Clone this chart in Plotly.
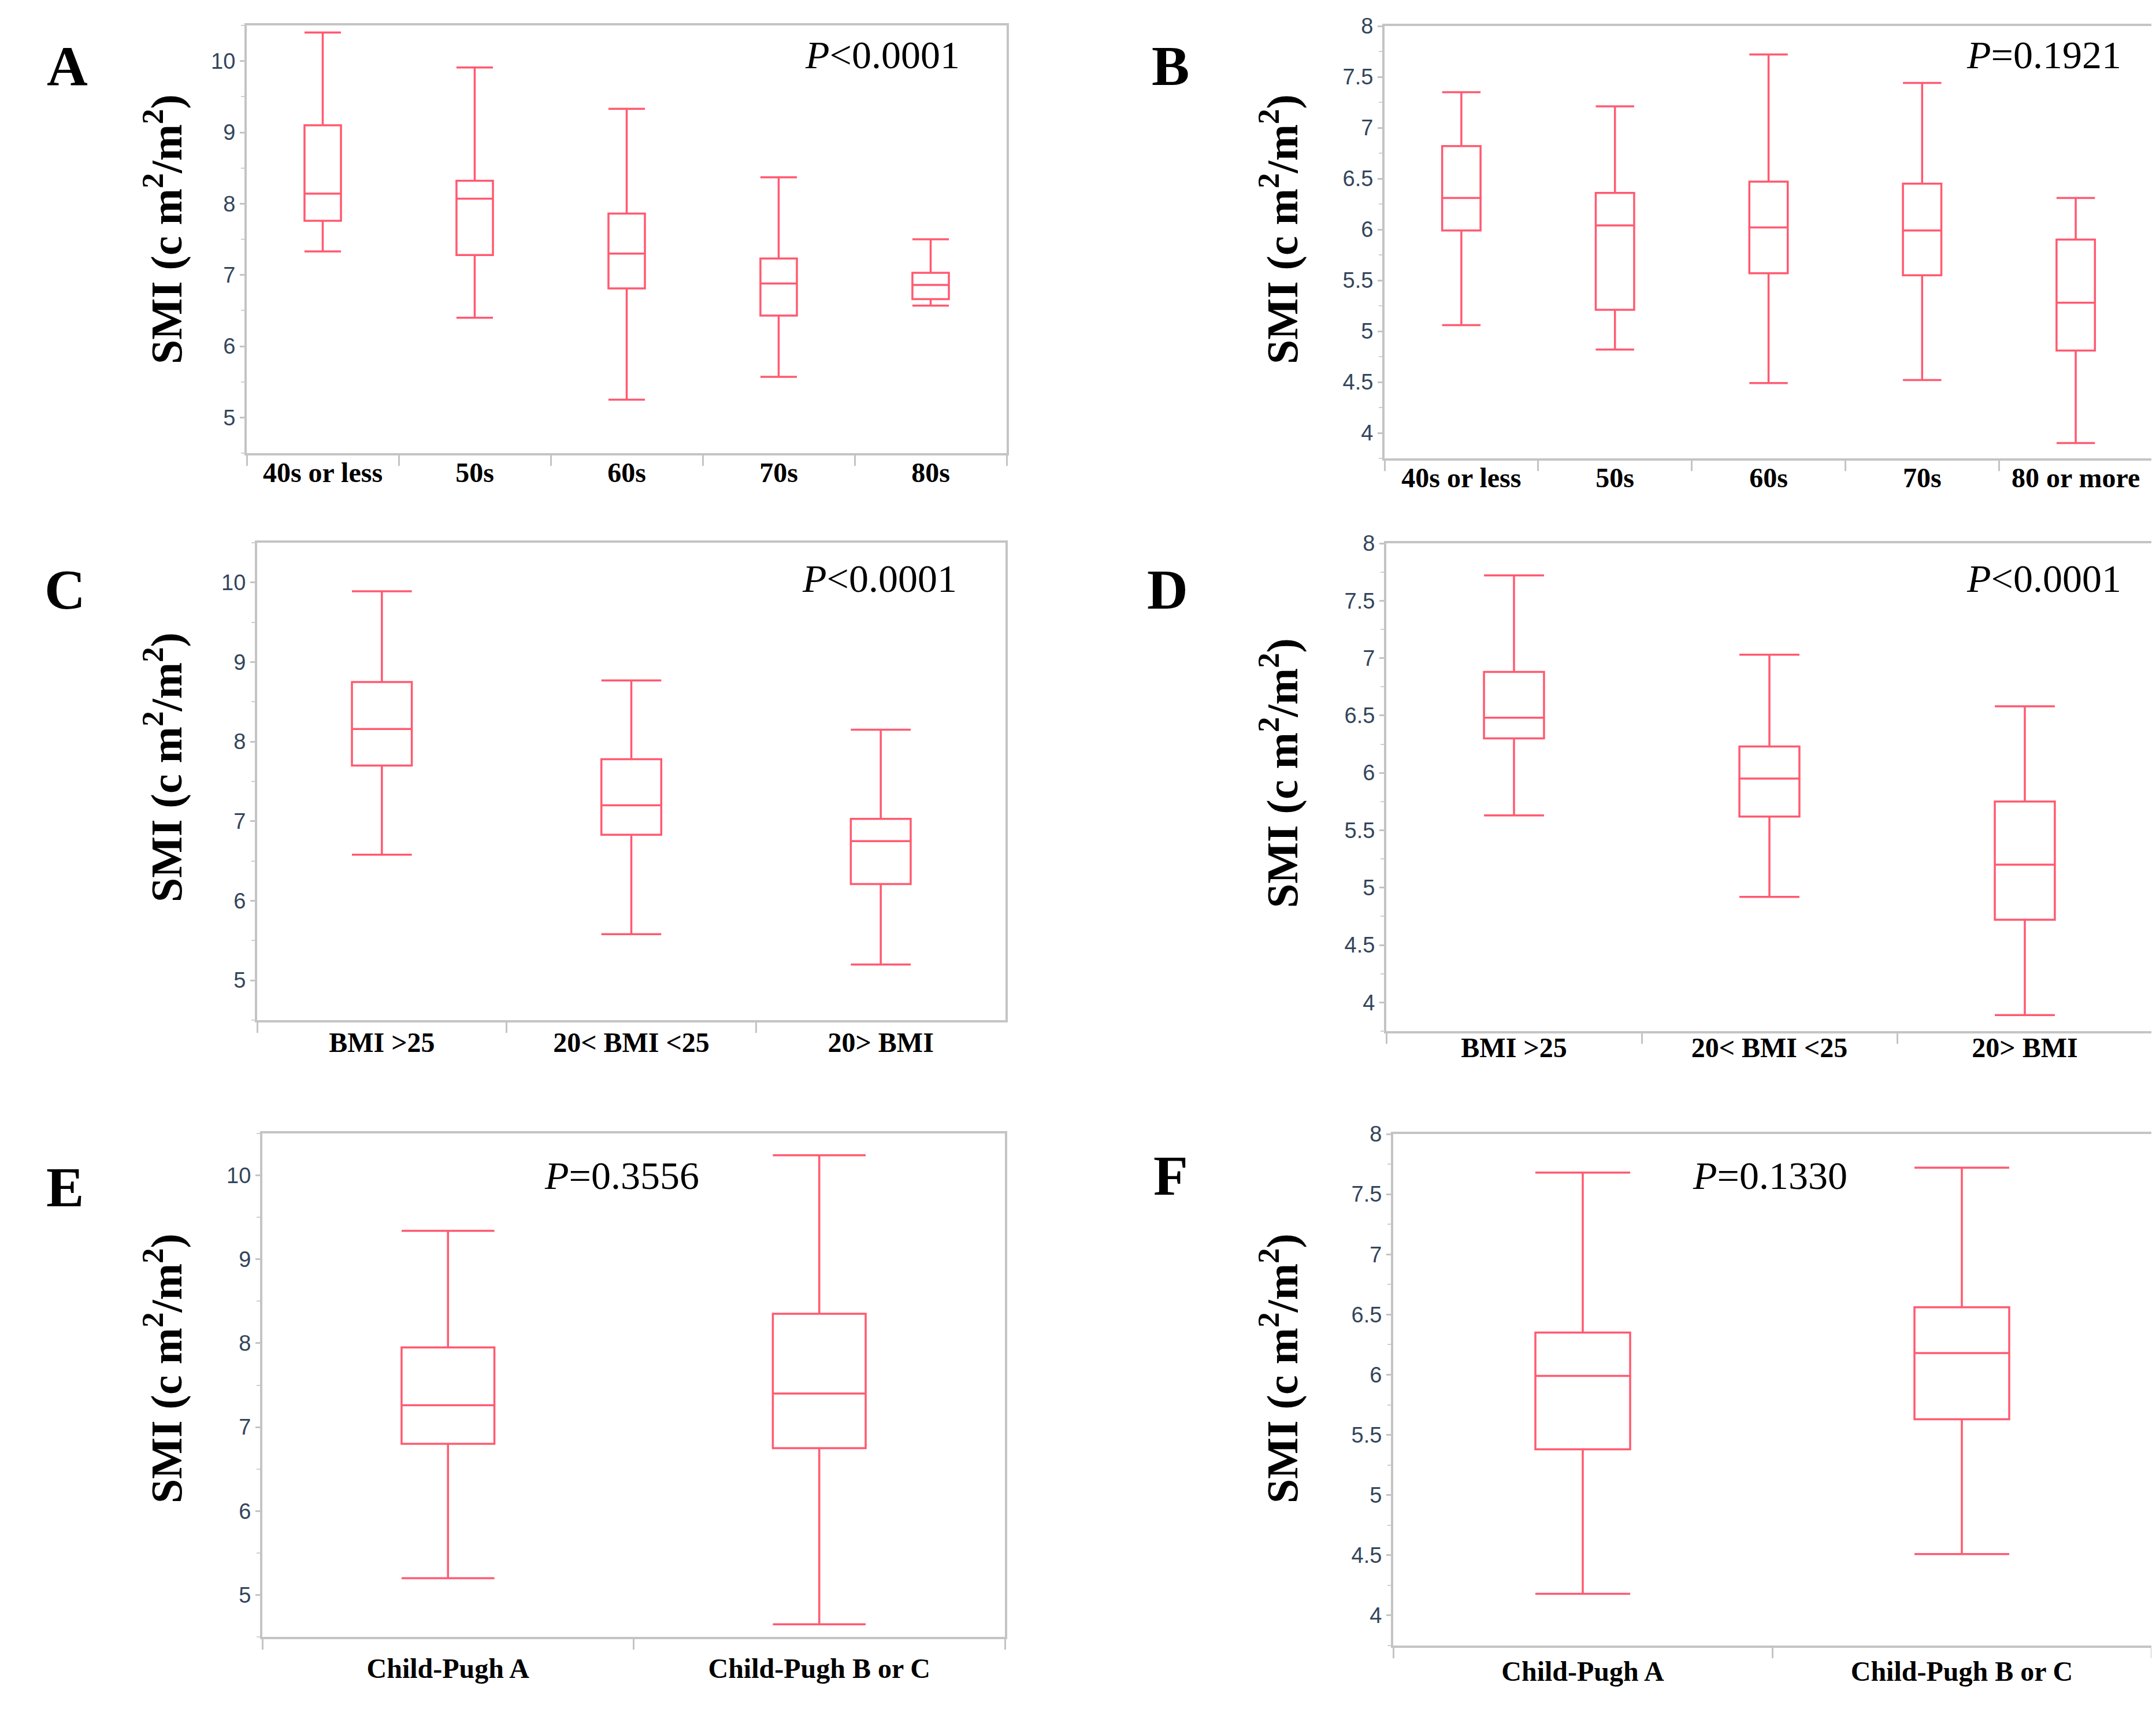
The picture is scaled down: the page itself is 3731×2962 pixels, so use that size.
import plotly.graph_objects as go

# ---- data ----
# A: age groups, y 4.5-10.5
a_cats = ["40s or less", "50s", "60s", "70s", "80s"]
a_low = [7.33, 6.40, 5.25, 5.57, 6.57]
a_q1 = [7.76, 7.28, 6.81, 6.43, 6.66]
a_med = [8.14, 8.07, 7.30, 6.88, 6.86]
a_q3 = [9.10, 8.32, 7.86, 7.23, 7.03]
a_high = [10.40, 9.91, 9.33, 8.37, 7.50]

# B: age groups, y 3.75-8
b_cats = ["40s or less", "50s", "60s", "70s", "80 or more"]
b_low = [5.06, 4.82, 4.49, 4.52, 3.90]
b_q1 = [5.99, 5.21, 5.57, 5.55, 4.81]
b_med = [6.31, 6.04, 6.02, 5.99, 5.28]
b_q3 = [6.82, 6.36, 6.47, 6.45, 5.90]
b_high = [7.35, 7.21, 7.72, 7.44, 6.31]

# C / D: BMI groups
bmi_cats = ["BMI >25", "20< BMI <25", "20> BMI"]
c_low = [6.58, 5.58, 5.20]
c_q1 = [7.70, 6.83, 6.21]
c_med = [8.16, 7.20, 6.75]
c_q3 = [8.75, 7.78, 7.03]
c_high = [9.89, 8.77, 8.15]

d_low = [5.63, 4.92, 3.89]
d_q1 = [6.30, 5.62, 4.72]
d_med = [6.48, 5.95, 5.20]
d_q3 = [6.88, 6.23, 5.75]
d_high = [7.72, 7.03, 6.58]

# E / F: Child-Pugh
cp_cats = ["Child-Pugh A", "Child-Pugh B or C"]
e_low = [5.20, 4.65]
e_q1 = [6.80, 6.75]
e_med = [7.26, 7.40]
e_q3 = [7.95, 8.35]
e_high = [9.34, 10.24]

f_low = [4.18, 4.51]
f_q1 = [5.38, 5.63]
f_med = [5.99, 6.18]
f_q3 = [6.35, 6.56]
f_high = [7.68, 7.72]

p_texts = ["<i>P</i><0.0001", "<i>P</i>=0.1921", "<i>P</i><0.0001",
           "<i>P</i><0.0001", "<i>P</i>=0.3556", "<i>P</i>=0.1330"]
letters = ["A", "B", "C", "D", "E", "F"]

W, H = 3731, 2962
RED = "#ff5a70"
FRAME = "#c4c4c4"
TICKFONT = dict(family="Liberation Sans Narrow, Liberation Sans, Arial", size=38, color="#33455c")
CATFONT = dict(family="Liberation Serif, Times New Roman", size=48, color="black")

# panel frames in pixels: x0, x1, y_top, y_bottom
frames = [
    (419, 1734, 36, 776),
    (2388, 3717, 37, 785),
    (437, 1732, 931, 1757),
    (2391, 3717, 932, 1776),
    (446, 1731, 1953, 2824),
    (2403, 3715, 1954, 2839),
]

panels = [
    (a_cats, a_low, a_q1, a_med, a_q3, a_high, [4.5, 10.5], 1, 0.5, 0.24),
    (b_cats, b_low, b_q1, b_med, b_q3, b_high, [3.75, 8.0], 0.5, 0.25, 0.25),
    (bmi_cats, c_low, c_q1, c_med, c_q3, c_high, [4.5, 10.5], 1, 0.5, 0.24),
    (bmi_cats, d_low, d_q1, d_med, d_q3, d_high, [3.75, 8.0], 0.5, 0.25, 0.235),
    (cp_cats, e_low, e_q1, e_med, e_q3, e_high, [4.5, 10.5], 1, 0.5, 0.25),
    (cp_cats, f_low, f_q1, f_med, f_q3, f_high, [3.75, 8.0], 0.5, 0.25, 0.25),
]

# annotation centres (pixels)
letter_pos = [(108, 106), (2018, 106), (104, 1012), (2013, 1012), (104, 2046), (2018, 2026)]
ytitle_pos = [(275, 389), (2206, 389), (275, 1320), (2206, 1330), (275, 2360), (2206, 2360)]
# (x, y, anchor)
p_pos = [(1655, 87, "right"), (3665, 87, "right"), (1650, 993, "right"),
         (3665, 993, "right"), (1068, 2026, "center"), (3055, 2026, "center")]
xlabel_standoff = [-12, -12, -7, -17, 9, -1]


def px(x):
    return x / W


def py(y):
    return 1 - y / H


fig = go.Figure()
layout = dict(width=W, height=H, margin=dict(l=0, r=0, t=0, b=0, autoexpand=False),
              paper_bgcolor="white", plot_bgcolor="white", showlegend=False)
annotations = []

for i, (cats, low, q1, med, q3, high, yr, dt, mdt, bw) in enumerate(panels):
    n = i + 1
    xa = "x" if n == 1 else "x%d" % n
    ya = "y" if n == 1 else "y%d" % n
    fig.add_trace(go.Box(
        x=cats, lowerfence=low, q1=q1, median=med, q3=q3, upperfence=high,
        xaxis=xa, yaxis=ya, width=bw, whiskerwidth=1, boxpoints=False,
        line=dict(color=RED, width=3.5), fillcolor="rgba(255,255,255,0)",
    ))
    x0, x1, yt, yb = frames[i]
    layout["xaxis" if n == 1 else "xaxis%d" % n] = dict(
        domain=[px(x0), px(x1)], anchor=ya, type="category", automargin=False,
        categoryorder="array", categoryarray=cats, range=[-0.5, len(cats) - 0.5],
        showline=True, mirror=True, linecolor=FRAME, linewidth=4,
        ticks="outside", tickson="boundaries", ticklen=18, tickwidth=3, tickcolor=FRAME,
        showgrid=False, zeroline=False, tickfont=CATFONT,
        ticklabelstandoff=xlabel_standoff[i],
        tickvals=cats, ticktext=["<b>%s</b>" % c for c in cats],
    )
    layout["yaxis" if n == 1 else "yaxis%d" % n] = dict(
        domain=[py(yb), py(yt)], anchor=xa, range=yr, dtick=dt, tick0=0, automargin=False,
        showline=True, mirror=True, linecolor=FRAME, linewidth=4,
        ticks="outside", ticklen=8, tickwidth=3, tickcolor=FRAME,
        minor=dict(dtick=mdt, tick0=0, ticks="outside", ticklen=6, tickwidth=2, tickcolor="#d0d0d0"),
        showgrid=False, zeroline=False, tickfont=TICKFONT,
    )

    lx, ly = letter_pos[i]
    annotations.append(dict(x=px(lx), y=py(ly), xref="paper", yref="paper",
                            xanchor="center", yanchor="middle",
                            text="<b>%s</b>" % letters[i], showarrow=False,
                            font=dict(family="Liberation Serif", size=98, color="black")))
    tx, ty = ytitle_pos[i]
    annotations.append(dict(x=px(tx), y=py(ty), xref="paper", yref="paper", textangle=-90,
                            xanchor="center", yanchor="middle",
                            text="<b>SMI (c m<sup>2</sup>/m<sup>2</sup>)</b>", showarrow=False,
                            font=dict(family="Liberation Serif", size=76, color="black")))
    ppx, ppy, anc = p_pos[i]
    annotations.append(dict(x=px(ppx), y=py(ppy), xref="paper", yref="paper",
                            xanchor=anc, yanchor="middle",
                            text=p_texts[i], showarrow=False,
                            font=dict(family="Liberation Serif", size=68, color="black")))

layout["annotations"] = annotations
fig.update_layout(**layout)
fig.write_html("out.html")
